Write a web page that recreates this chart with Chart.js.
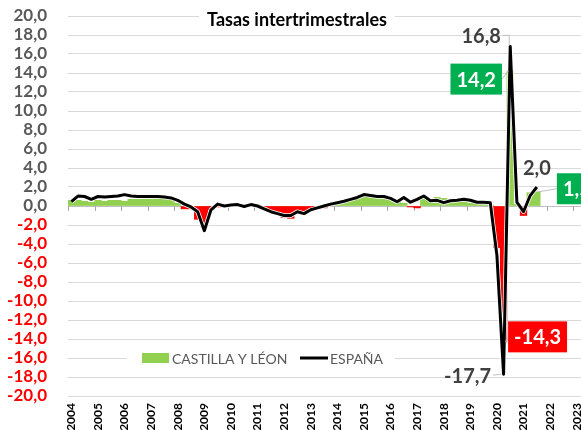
<!DOCTYPE html>
<html>
<head>
<meta charset="utf-8">
<script src="https://cdn.jsdelivr.net/npm/chart.js@4.4.0/dist/chart.umd.min.js"></script>
<style>
    html, body { margin: 0; padding: 0; background: #fff; overflow: hidden; }
    #chart { position: absolute; left: 0; top: 0; }
</style>
</head>
<body>
<canvas id="chart" width="600" height="430"></canvas>
<script>
// Años del eje X (cada uno con 4 trimestres)
const years = [2004, 2005, 2006, 2007, 2008, 2009, 2010, 2011, 2012, 2013,
    2014, 2015, 2016, 2017, 2018, 2019, 2020, 2021, 2022, 2023];

// Castilla y León, tasa intertrimestral (%)
const castilla = [
    0.6, 0.6, 0.5, 0.4,      // 2004
    0.6, 0.5, 0.6, 0.6,      // 2005
    0.5, 0.7, 0.7, 0.75,     // 2006
    0.75, 0.8, 0.75, 0.6,    // 2007
    0.3, -0.3, -0.3, -1.4,   // 2008
    -2.2, -0.4, -0.1, 0.1,   // 2009
    0.1, 0.2, 0.0, 0.1,      // 2010
    0.1, -0.1, -0.5, -0.6,   // 2011
    -1.2, -1.3, -0.8, -0.8,  // 2012
    -0.5, -0.3, -0.2, 0.1,   // 2013
    0.2, 0.4, 0.6, 0.9,      // 2014
    1.0, 0.9, 0.8, 0.9,      // 2015
    0.6, 0.5, 0.3, -0.1,     // 2016
    -0.2, 0.8, 0.6, 0.9,     // 2017
    0.8, 0.7, 0.6, 0.7,      // 2018
    0.3, 0.3, 0.2, 0.1,      // 2019
    -4.4, -14.3, 14.2, 0.2,  // 2020
    -1.0, 1.4, 1.5           // 2021
];

// España, tasa intertrimestral (%)
const espana = [
    0.45, 1.05, 1.0, 0.7,    // 2004
    1.0, 0.95, 1.0, 1.05,    // 2005
    1.2, 1.05, 1.0, 1.0,     // 2006
    1.0, 1.0, 0.95, 0.85,    // 2007
    0.6, 0.2, -0.1, -0.6,    // 2008
    -2.6, -0.4, 0.2, 0.0,    // 2009
    0.1, 0.15, -0.05, 0.15,  // 2010
    0.0, -0.3, -0.6, -0.8,   // 2011
    -1.0, -1.0, -0.6, -0.8,  // 2012
    -0.4, -0.2, 0.0, 0.2,    // 2013
    0.35, 0.5, 0.7, 0.9,     // 2014
    1.2, 1.1, 1.0, 1.0,      // 2015
    0.8, 0.45, 0.9, 0.4,     // 2016
    0.7, 1.05, 0.55, 0.6,    // 2017
    0.35, 0.55, 0.6, 0.7,    // 2018
    0.6, 0.4, 0.4, 0.35,     // 2019
    -5.2, -17.7, 16.8, 0.4,  // 2020
    -0.6, 1.1, 2.0           // 2021
];

// Trimestres (categorías)
const quarters = [];
years.forEach(y => {
    for (let q = 1; q <= 4; q++) quarters.push(y + 'T' + q);
});

// Etiquetas de datos destacadas
const dataLabels = [
    { series: 'espana', index: 66, text: '16,8', box: null, dx: -29, dy: -11 },
    { series: 'castilla', index: 66, text: '14,2', box: '#00B050', dx: -34, dy: 8 },
    { series: 'espana', index: 70, text: '2,0', box: null, dx: 0, dy: -19 },
    { series: 'castilla', index: 70, text: '1,5', box: '#00B050', dx: 40, dy: -3 },
    { series: 'castilla', index: 65, text: '-14,3', box: '#FF0000', dx: 34, dy: -5 },
    { series: 'espana', index: 65, text: '-17,7', box: null, dx: -36, dy: 1 }
];

const FONT = 'Lato, "Liberation Sans", sans-serif';

function fmt(v) {
    return v.toFixed(1).replace('.', ',');
}

// Marcas del eje en la línea de cero
const zeroTicks = {
    id: 'zeroTicks',
    beforeDatasetsDraw(chart) {
        const x = chart.scales.x, y = chart.scales.y;
        const y0 = y.getPixelForValue(0);
        const half = (x.getPixelForValue(1) - x.getPixelForValue(0)) / 2;
        const ctx = chart.ctx;
        ctx.save();
        ctx.strokeStyle = '#a6a6a6';
        ctx.lineWidth = 1;
        for (let i = 0; i <= quarters.length; i += 4) {
            const px = Math.round(x.getPixelForValue(i) - half) + 0.5;
            ctx.beginPath();
            ctx.moveTo(px, y0);
            ctx.lineTo(px, y0 + 5);
            ctx.stroke();
        }
        ctx.restore();
    }
};

// Título, leyenda y etiquetas
const decorations = {
    id: 'decorations',
    afterDraw(chart) {
        const ctx = chart.ctx;
        const y = chart.scales.y;
        ctx.save();

        // Título
        ctx.font = 'bold 18px ' + FONT;
        const title = 'Tasas intertrimestrales';
        const tw = ctx.measureText(title).width;
        const tx = 297;
        ctx.fillStyle = '#fff';
        ctx.fillRect(tx - tw / 2 - 8, 8, tw + 16, 24);
        ctx.fillStyle = '#000';
        ctx.textAlign = 'center';
        ctx.textBaseline = 'middle';
        ctx.fillText(title, tx, 20);

        // Leyenda
        const ly = y.getPixelForValue(-16);
        ctx.fillStyle = '#fff';
        ctx.fillRect(127, ly - 11, 268, 22);
        ctx.fillStyle = '#92D050';
        ctx.fillRect(142, ly - 5, 27, 10);
        ctx.font = '14px ' + FONT;
        ctx.fillStyle = '#595959';
        ctx.textAlign = 'left';
        ctx.fillText('CASTILLA Y LÉON', 172, ly + 1);
        ctx.strokeStyle = '#000';
        ctx.lineWidth = 3;
        ctx.beginPath();
        ctx.moveTo(300, ly);
        ctx.lineTo(328, ly);
        ctx.stroke();
        ctx.fillText('ESPAÑA', 330, ly + 1);

        // Etiquetas de datos
        ctx.font = 'bold 20px ' + FONT;
        dataLabels.forEach(l => {
            const dsIndex = l.series === 'espana' ? 0 : 2;
            const el = chart.getDatasetMeta(dsIndex).data[l.index];
            const px = el.x, py = el.y;
            const cx = px + l.dx, cy = py + l.dy;
            const w = ctx.measureText(l.text).width;
            // línea guía
            const edge = l.box ? (w / 2 + 6) : (w / 2 + 2);
            const ex = l.dx < 0 ? cx + edge : (l.dx > 0 ? cx - edge : cx);
            ctx.strokeStyle = '#bfbfbf';
            ctx.lineWidth = 1;
            if (l.dx !== 0) {
                ctx.beginPath();
                ctx.moveTo(ex, cy);
                if (l.box === null && l.dy < -5) {
                    ctx.lineTo(px - 1, cy);
                    ctx.lineTo(px - 1, py - 1);
                } else {
                    ctx.lineTo(px + (l.dx < 0 ? -2 : 2), py);
                }
                ctx.stroke();
            }
            if (l.box) {
                ctx.fillStyle = l.box;
                ctx.fillRect(cx - w / 2 - 6, cy - 15.5, w + 12, 31);
                ctx.fillStyle = '#fff';
            } else {
                ctx.fillStyle = '#404040';
            }
            ctx.textAlign = 'center';
            ctx.textBaseline = 'middle';
            ctx.fillText(l.text, cx, cy + 1);
        });
        ctx.restore();
    }
};

const chart = new Chart(document.getElementById('chart'), {
    data: {
        labels: quarters,
        datasets: [{
            type: 'line',
            label: 'ESPAÑA',
            data: espana,
            borderColor: '#000000',
            borderWidth: 3,
            borderJoinStyle: 'round',
            pointRadius: 0,
            tension: 0,
            order: 0
        }, {
            type: 'line',
            label: 'halo',
            data: espana,
            borderColor: '#ffffff',
            borderWidth: 4.5,
            borderJoinStyle: 'round',
            pointRadius: 0,
            tension: 0,
            order: 1
        }, {
            type: 'bar',
            label: 'CASTILLA Y LÉON',
            data: castilla,
            backgroundColor: ctx => (ctx.raw < 0 ? '#FF0000' : '#92D050'),
            barPercentage: 1,
            categoryPercentage: 1,
            order: 2
        }]
    },
    options: {
        responsive: false,
        animation: false,
        layout: { padding: { top: 16, right: 0, left: 0, bottom: 0 } },
        plugins: {
            legend: { display: false },
            tooltip: { enabled: false },
            title: { display: false }
        },
        scales: {
            x: {
                offset: true,
                grid: { display: false, drawTicks: false },
                border: { display: false },
                ticks: {
                    autoSkip: false,
                    minRotation: 90,
                    maxRotation: 90,
                    padding: 7,
                    color: '#000',
                    font: { family: FONT, size: 12, weight: 'bold' },
                    callback: (v, i) => (i % 4 === 0 ? String(years[i / 4]) : '')
                },
                afterFit: scale => {
                    scale.height = 34;
                    scale.paddingLeft = 0;
                    scale.paddingRight = 0;
                }
            },
            y: {
                min: -20,
                max: 20,
                grid: {
                    drawTicks: false,
                    color: ctx => (ctx.tick.value === 0 ? '#bfbfbf' : '#d9d9d9'),
                    lineWidth: 1
                },
                border: { display: false },
                ticks: {
                    stepSize: 2,
                    autoSkip: false,
                    padding: 21,
                    color: ctx => (ctx.tick.value < 0 ? '#FF0000' : '#595959'),
                    font: { family: FONT, size: 17, weight: 'bold' },
                    callback: v => fmt(v)
                },
                afterFit: scale => {
                    scale.width = 68;
                    scale.paddingTop = 0;
                    scale.paddingBottom = 0;
                }
            }
        }
    },
    plugins: [zeroTicks, decorations]
});
</script>
</body>
</html>
